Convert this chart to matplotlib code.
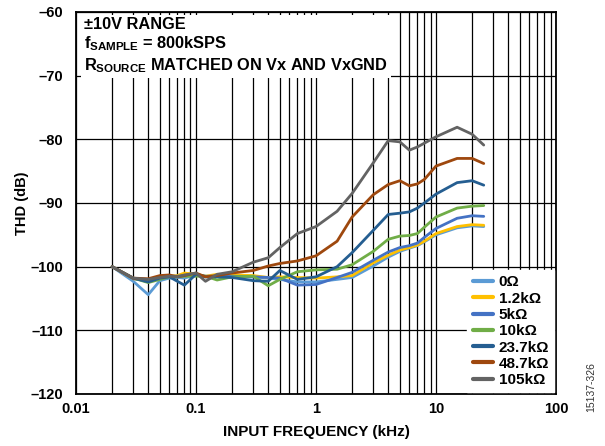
import matplotlib
matplotlib.use('Agg')
import matplotlib.pyplot as plt

plt.rcParams['font.family'] = ['Liberation Sans', 'DejaVu Sans']
plt.rcParams['font.weight'] = 'bold'
plt.rcParams['mathtext.fontset'] = 'custom'
plt.rcParams['mathtext.rm'] = 'Liberation Sans'
plt.rcParams['mathtext.bf'] = 'Liberation Sans:bold'

# input frequency, kHz
freq = [0.02, 0.03, 0.04, 0.05, 0.06, 0.07, 0.08, 0.1, 0.12, 0.15, 0.2, 0.3, 0.4, 0.5,
        0.7, 1, 1.5, 2, 3, 4, 5, 6, 7, 8, 10, 15, 20, 25]

# THD (dB) for each source resistance
thd_0 = [-100.0, -102.3, -104.4, -102.2, -101.8, -101.7, -101.8, -101.3, -101.6, -101.6,
         -101.7, -101.6, -101.8, -102.0, -102.4, -102.4, -102.0, -101.7, -99.9, -98.5,
         -97.6, -97.1, -96.7, -96.1, -95.0, -93.9, -93.6, -93.7]
thd_1k2 = [-100.0, -101.9, -102.2, -101.8, -101.5, -101.4, -101.0, -101.2, -101.5, -101.2,
           -101.3, -101.4, -101.7, -101.6, -101.7, -101.8, -101.6, -101.4, -99.4, -98.2,
           -97.4, -97.0, -96.6, -96.0, -94.8, -93.7, -93.4, -93.5]
thd_5k = [-100.0, -101.9, -102.1, -101.6, -101.5, -101.5, -101.4, -101.2, -101.5, -101.5,
          -101.5, -101.6, -101.7, -101.8, -102.9, -102.8, -101.7, -100.9, -99.0, -97.7,
          -97.0, -96.7, -96.3, -95.4, -94.0, -92.4, -92.0, -92.1]
thd_10k = [-100.0, -101.8, -102.5, -102.0, -101.6, -101.6, -101.5, -101.5, -101.5, -102.1,
           -101.6, -101.5, -103.0, -102.0, -100.8, -100.5, -100.4, -99.7, -97.6, -95.7,
           -95.2, -95.1, -94.8, -93.8, -92.2, -90.8, -90.5, -90.4]
thd_23k7 = [-100.0, -101.8, -102.4, -101.8, -101.6, -102.3, -102.9, -101.2, -101.6, -101.6,
            -101.7, -102.2, -102.3, -100.6, -102.0, -101.6, -100.0, -97.8, -94.3, -91.8,
            -91.6, -91.4, -90.8, -90.0, -88.6, -86.8, -86.5, -87.2]
thd_48k7 = [-100.0, -101.8, -101.9, -101.4, -101.3, -101.6, -101.4, -101.0, -101.6, -101.4,
            -101.0, -100.6, -99.9, -99.5, -99.1, -98.3, -96.0, -92.2, -88.7, -87.1,
            -86.5, -87.3, -87.0, -86.3, -84.2, -83.0, -83.0, -83.8]
thd_105k = [-100.0, -101.8, -102.0, -101.7, -101.5, -101.6, -101.3, -101.0, -102.3, -101.2,
            -100.8, -99.3, -98.6, -97.0, -94.8, -93.7, -91.3, -88.5, -83.7, -80.2,
            -80.4, -81.7, -81.2, -80.6, -79.6, -78.1, -79.2, -80.9]

labels = ['0Ω', '1.2kΩ', '5kΩ', '10kΩ', '23.7kΩ', '48.7kΩ', '105kΩ']
series = [thd_0, thd_1k2, thd_5k, thd_10k, thd_23k7, thd_48k7, thd_105k]
colors = ['#5B9BD5', '#FFC000', '#4472C4', '#70AD47', '#255E91', '#9E480E', '#636363']

yticks = [-120, -110, -100, -90, -80, -70, -60]

fig = plt.figure(figsize=(6.05, 4.46), dpi=100)
ax = fig.add_axes([0.1256, 0.1166, 0.7934, 0.8565])

for y, c, l in zip(series, colors, labels):
    ax.plot(freq, y, color=c, lw=2.0, label=l, solid_capstyle='round')

ax.set_xscale('log')
ax.set_xlim(0.01, 100)
ax.set_ylim(-120, -60)
ax.set_yticks(yticks)
ax.set_yticklabels(['\u2013%d' % abs(v) for v in yticks])
ax.set_xticks([0.01, 0.1, 1, 10, 100])
ax.set_xticklabels(['0.01', '0.1', '1', '10', '100'])
ax.grid(True, which='both', axis='x', color='black', lw=0.9)
ax.grid(True, which='major', axis='y', color='black', lw=0.9)
ax.set_axisbelow(True)
ax.tick_params(which='both', length=0, labelsize=10.5)
ax.tick_params(axis='y', pad=9)
ax.tick_params(axis='x', pad=6)
for s in ax.spines.values():
    s.set_linewidth(1.3)

ax.set_xlabel('INPUT FREQUENCY (kHz)', fontsize=11, fontweight='bold', labelpad=6)
ax.set_ylabel('THD (dB)', fontsize=10.5, fontweight='bold', labelpad=1)

note = ('±10V RANGE\n'
        r'f$_{\mathbf{SAMPLE}}$ = 800kSPS' + '\n'
        r'R$_{\mathbf{SOURCE}}$ MATCHED ON Vx AND VxGND')
ax.text(0.017, 0.987, note, transform=ax.transAxes, va='top', ha='left',
        fontsize=11.8, fontweight='bold', linespacing=1.2, zorder=5,
        bbox=dict(facecolor='white', edgecolor='none', pad=2.5))

leg = ax.legend(loc='lower right', bbox_to_anchor=(1, 0), borderaxespad=0.1,
                fontsize=11, frameon=True, fancybox=False, framealpha=1,
                edgecolor='white', handlelength=1.3, handletextpad=0.4,
                labelspacing=0.15, borderpad=0.35)
for t in leg.get_texts():
    t.set_fontweight('bold')
for h in leg.get_lines():
    h.set_linewidth(3)

fig.text(0.978, 0.132, '15137-326', rotation=90, fontsize=7.5, fontweight='normal',
         ha='center', va='center', color='#333333')

fig.savefig('out.png', dpi=100)
